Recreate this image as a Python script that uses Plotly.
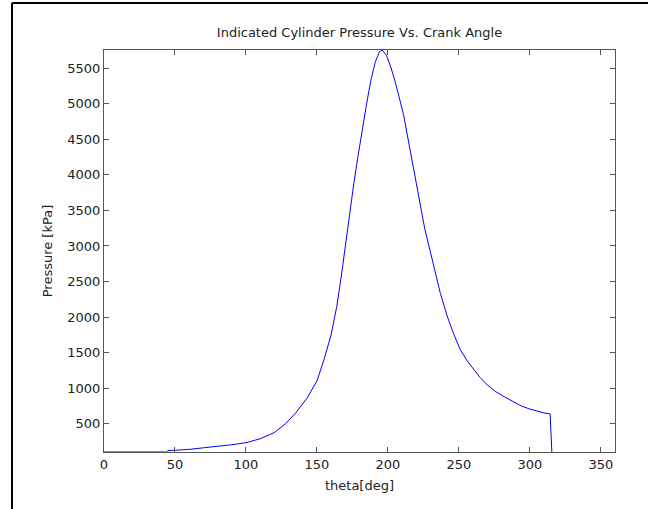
import plotly.graph_objects as go

theta = [0, 44, 45, 55, 60, 70, 80, 90, 100, 110, 120, 128, 135, 143, 150, 155, 160,
         164, 167, 170, 173, 176, 179, 182, 185, 188, 191, 194, 196, 199, 202, 205,
         208, 211, 215, 219, 223, 226, 230, 233, 237, 242, 246, 251, 256, 261, 265,
         270, 276, 282, 288, 294, 300, 306, 310, 314.3, 315.5]
pressure = [101, 101, 120, 125, 138, 160, 180, 203, 232, 287, 375, 500, 650, 857,
            1100, 1400, 1750, 2150, 2550, 3000, 3450, 3880, 4270, 4650, 5000, 5330,
            5580, 5730, 5757, 5680, 5520, 5320, 5100, 4850, 4420, 3980, 3560, 3240,
            2910, 2650, 2330, 2000, 1780, 1540, 1380, 1250, 1150, 1045, 950, 878, 810,
            748, 705, 670, 650, 636, 101]

x_ticks = [0, 50, 100, 150, 200, 250, 300, 350]
y_ticks = [500, 1000, 1500, 2000, 2500, 3000, 3500, 4000, 4500, 5000, 5500]

FONT = "DejaVu Sans"
TXT = "#222222"

fig = go.Figure()
fig.add_trace(go.Scatter(x=theta, y=pressure, mode="lines",
                         line=dict(color="#0000ff", width=1), showlegend=False))

axis_common = dict(showline=True, linecolor="#555555", linewidth=1, mirror="ticks",
                   ticks="inside", ticklen=5, tickcolor="#555555", showgrid=False,
                   zeroline=False, tickfont=dict(family=FONT, size=13, color=TXT))

fig.update_layout(
    width=648, height=509,
    margin=dict(l=104, r=33, t=50, b=57),
    paper_bgcolor="white", plot_bgcolor="white",
    title=dict(text="Indicated Cylinder Pressure Vs. Crank Angle", x=0.5, xanchor="center",
               xref="paper", y=1 - 32 / 509, yanchor="middle",
               font=dict(family=FONT, size=13, color=TXT)),
    xaxis=dict(range=[0, 360], tickvals=x_ticks, title=dict(text="theta[deg]", standoff=10,
               font=dict(family=FONT, size=13, color=TXT)), **axis_common),
    yaxis=dict(range=[101, 5757], tickvals=y_ticks, title=dict(text="Pressure [kPa]", standoff=11,
               font=dict(family=FONT, size=13, color=TXT)), **axis_common),
)

# outer figure frame (left and top edges visible)
fx = (12 - 104) / 511
fy = (452 - 3) / 402
fig.add_shape(type="line", xref="paper", yref="paper", x0=fx, x1=fx, y0=fy, y1=-0.3,
              line=dict(color="black", width=2), layer="above")
fig.add_shape(type="line", xref="paper", yref="paper", x0=fx, x1=1.3, y0=fy, y1=fy,
              line=dict(color="black", width=2), layer="above")

fig.write_html("out.html", config={"displayModeBar": False},
               post_script="document.body.style.margin='0px';")
